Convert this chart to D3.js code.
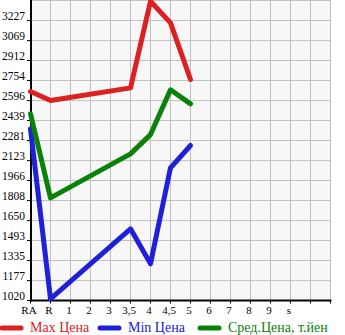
<!DOCTYPE html>
<html>
<head>
<meta charset="UTF-8">
<script src="https://d3js.org/d3.v7.min.js"></script>
<style>
    body { margin: 0; background: #fff; }
    svg { display: block; }
</style>
</head>
<body>
<svg width="345" height="335"></svg>
<script>
    // категории (две последние колонки без подписи)
    const categories = ["RA", "R", "1", "2", "3", "3,5", "4", "4,5", "5", "6", "7", "8", "9", "s", "", ""];
    const yTicks = [1020, 1177, 1335, 1493, 1650, 1808, 1966, 2123, 2281, 2439, 2596, 2754, 2912, 3069, 3227];

    const maxPrice = [2667, 2596, null, null, null, 2696, 3379, 3209, 2762];
    const minPrice = [2373, 1033, null, null, null, 1585, 1309, 2066, 2242];
    const avgPrice = [2491, 1829, null, null, null, 2176, 2328, 2681, 2570];

    const svg = d3.select("svg");
    const plotL = 30.5, plotR = 330.5, plotT = 0.5, plotB = 300.5;

    const x = d3.scaleLinear().domain([0, categories.length - 1]).range([plotL, plotR]);
    const y = d3.scaleLinear().domain([1020, 3385]).range([plotB, plotT]);

    svg.append("rect")
        .attr("x", plotL).attr("y", 0)
        .attr("width", plotR - plotL).attr("height", plotB)
        .attr("fill", "#f7f7f7");

    // сетка
    svg.append("g").selectAll("line")
        .data(categories)
        .enter().append("line")
        .attr("x1", (d, i) => x(i)).attr("x2", (d, i) => x(i))
        .attr("y1", 0).attr("y2", plotB)
        .attr("stroke", "#c0c0c0");

    const hGrid = yTicks.concat([3385]);
    svg.append("g").selectAll("line")
        .data(hGrid)
        .enter().append("line")
        .attr("x1", plotL).attr("x2", plotR)
        .attr("y1", d => y(d)).attr("y2", d => y(d))
        .attr("stroke", "#c0c0c0");

    // оси
    svg.append("line")
        .attr("x1", plotL + 0.5).attr("x2", plotL + 0.5)
        .attr("y1", 0).attr("y2", plotB + 1)
        .attr("stroke", "#000").attr("stroke-width", 2);
    svg.append("line")
        .attr("x1", plotL).attr("x2", plotR + 1)
        .attr("y1", plotB).attr("y2", plotB)
        .attr("stroke", "#000").attr("stroke-width", 2);

    // подписи Y
    const yg = svg.append("g");
    yg.selectAll("line")
        .data(yTicks)
        .enter().append("line")
        .attr("x1", 27).attr("x2", plotL)
        .attr("y1", d => y(d)).attr("y2", d => y(d))
        .attr("stroke", "#000");
    yg.selectAll("text")
        .data(yTicks)
        .enter().append("text")
        .attr("x", 25).attr("y", d => y(d) - 0.5)
        .attr("text-anchor", "end")
        .attr("font-family", "Liberation Serif")
        .attr("font-size", 11.5)
        .text(d => d);

    // подписи X
    const xg = svg.append("g");
    xg.selectAll("line")
        .data(categories)
        .enter().append("line")
        .attr("x1", (d, i) => x(i)).attr("x2", (d, i) => x(i))
        .attr("y1", plotB).attr("y2", plotB + 3)
        .attr("stroke", "#000");
    xg.selectAll("text")
        .data(categories)
        .enter().append("text")
        .attr("x", (d, i) => x(i) - 1.5).attr("y", 314)
        .attr("text-anchor", "middle")
        .attr("font-family", "Liberation Serif")
        .attr("font-size", 11)
        .text(d => d);

    // линии
    const series = [
        { values: maxPrice, color: "#dd2020", label: "Max Цена" },
        { values: minPrice, color: "#2020d8", label: "Min Цена" },
        { values: avgPrice, color: "#0a820a", label: "Сред.Цена, т.йен" }
    ];

    const line = d3.line().x(d => x(d.i)).y(d => y(d.v));

    series.forEach(s => {
        const pts = s.values.map((v, i) => ({ i: i, v: v })).filter(d => d.v !== null);
        svg.append("path")
            .datum(pts)
            .attr("d", line)
            .attr("fill", "none")
            .attr("stroke", s.color)
            .attr("stroke-width", 5)
            .attr("stroke-linejoin", "round")
            .attr("stroke-linecap", "round");
    });

    // легенда
    const legX = [2, 100, 200];
    series.forEach((s, k) => {
        svg.append("line")
            .attr("x1", legX[k]).attr("x2", legX[k] + 19)
            .attr("y1", 328).attr("y2", 328)
            .attr("stroke", s.color)
            .attr("stroke-width", 5)
            .attr("stroke-linecap", "round");
        svg.append("text")
            .attr("x", legX[k] + 28).attr("y", 332)
            .attr("font-family", "Liberation Serif")
            .attr("font-size", 14)
            .attr("fill", s.color)
            .text(s.label);
    });
</script>
</body>
</html>
